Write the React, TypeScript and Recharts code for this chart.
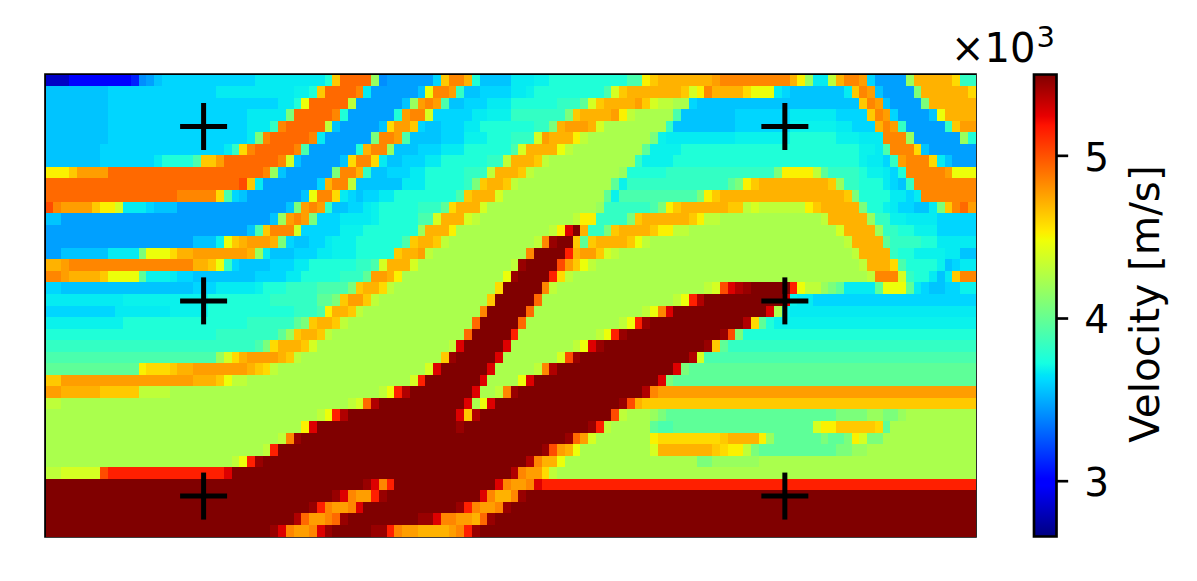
import { Area, ComposedChart, ReferenceArea, Scatter, ScatterChart, XAxis, YAxis } from "recharts";

const COLS = 120;
const ROWS = 40;
const V_MIN = 2.66;
const V_MAX = 5.5;

// velocity (x10^3 m/s) for each letter used in the rows below
const LEVEL_CODES = "nBCDEFGHJKLMNOPQRSTUVWXYZabcdefg";
const LEVEL_VALUES = [
  2.83, 3.0, 3.1, 3.41, 3.46, 3.56, 3.61, 3.67, 3.69, 3.76, 3.83, 3.91, 3.98, 4.08, 4.18, 4.24,
  4.31, 4.39, 4.47, 4.52, 4.59, 4.64, 4.71, 4.77, 4.84, 4.93, 5.02, 5.15, 5.27, 5.38, 5.44, 5.5,
];

// one line per row, each token = level letter + column where that run ends
const VELOCITY_ROWS = [
  "n3 B11 C12 D13 E14 F15 G27 H36 K37 W38 a42 P43 D44 E50 G51 W52 Z54 X55 K56 F60 H63 J65 K75 M77 U78 W79 X86 Y87 Z96 X97 U98 P99 H101 R102 X103 Z105 Y106 G107 E111 P112 X117 V118 L120",
  "F8 G22 H32 J34 K35 W36 a40 Z41 H42 E48 F49 T50 Z52 Y53 L54 F56 G60 H62 J63 K72 M73 S74 W75 X82 W83 S84 U85 Z86 X90 V91 T94 H95 G96 F103 H104 W105 Z106 Y107 F108 E112 O113 X119 V120",
  "F8 G30 H32 K33 T34 a39 R40 E46 F47 P48 Y49 Z50 Y51 M52 F54 G57 H60 K66 L69 N70 S71 W72 X76 Y77 W78 S79 R81 Q83 G84 F105 W106 Z107 Y108 F109 E113 O114 X120",
  "F8 G26 H31 O32 a37 Z38 K39 E45 K46 Y47 Z49 S50 G55 H57 J60 L67 O68 W69 X73 Y74 U75 R76 Q81 M82 F89 G96 H102 G106 W107 Z108 Y109 G110 E114 F115 T116 X120",
  "F8 G26 H29 L30 Z31 a36 R37 F38 E43 F44 V45 Y47 W48 G49 F51 G54 H56 K63 L65 O66 X67 Y70 X71 S72 Q80 L81 F89 G96 J102 H104 G107 X108 Z109 Y110 L111 E116 L117 W118 Y120",
  "F8 G26 H27 O28 Z29 a34 Z35 H36 E42 O43 Z45 Y46 M47 F51 G54 J57 K60 L63 S64 Y65 X68 U69 R70 Q78 O79 J80 H89 J96 K102 J105 H108 Z111 P112 E118 P119 K120",
  "F7 G23 H24 L25 V26 Z27 a32 Z33 M34 E40 K41 X42 Z44 P45 F48 G51 H54 K60 M61 S62 X66 T67 R68 Q77 N78 J82 K105 J107 H108 M109 Z112 V113 F114 E120",
  "F7 G14 H15 K19 M20 W22 Y23 a30 Z31 S32 F33 E38 F39 V40 Z42 V43 H44 F46 G49 H51 K57 L59 R60 X63 W64 R65 Q76 L77 J81 K105 J106 H108 G109 L110 Y111 Z114 V115 H116 F117 E120",
  "U3 W4 Y8 a28 Z29 P30 F31 E37 O38 Z40 X41 L42 F44 G47 H49 K54 L57 R58 X61 W62 R63 Q74 P75 K80 L94 O95 U99 R100 N101 L105 K106 J108 H109 G110 K111 Z116 Y117 T120",
  "a25 b26 W27 H28 E35 G36 X37 Z39 R40 F46 H49 K54 L55 O56 W57 X59 W60 R61 Q73 N74 J75 L88 N89 O90 U91 W92 X101 W102 P103 L105 K108 H109 G110 F111 L112 Z120",
  "a17 Z22 V23 M24 G25 F26 E33 F34 T35 Z37 V38 H39 G40 F41 G43 H45 K53 M54 W55 X58 S59 Q72 N73 J74 M84 O85 U86 W87 X103 W104 O105 K109 H111 G112 H113 Z120",
  "b1 Z2 Y6 W7 U9 S10 H13 G14 F17 E31 F32 O33 Y34 Z35 Y36 L37 F39 G41 H42 J43 K48 L51 N52 V53 X56 S57 Q71 P72 L78 M79 O80 U81 W82 X88 W90 R91 S92 R98 U99 W100 X105 O106 K108 J109 H110 G112 F114 H115 O116 W117 Z118 a119 Y120",
  "F2 E29 F30 P31 Y32 Z33 Y34 O35 G38 H42 J43 K48 M50 S51 X54 S55 R56 Q68 R69 U71 L75 O76 W77 X83 W84 U85 R87 Q100 R101 X106 P107 L109 J111 H115 G120",
  "E26 F27 M28 W29 Z32 S33 G38 J41 K48 P49 X52 U53 Q65 R66 U67 d68 g69 X70 L72 O73 W74 X78 W79 U81 R83 Q102 S103 X107 P108 L110 K112 J115 G120",
  "E19 F22 J23 T24 W25 X26 Y29 X30 O31 G32 F34 G36 H37 J40 K46 M47 W48 X50 W51 R52 Q63 R64 Z65 f66 g68 W69 N70 W71 X75 W76 T77 R78 Q103 R104 X108 N109 L113 K115 H120",
  "E2 F8 H12 O13 T16 V17 X19 Y26 X27 P28 H29 F32 G35 H37 J40 K45 W46 X48 Y49 R50 Q62 Z63 g67 c68 X69 Y71 W72 S73 R74 Q104 R105 X109 L110 K112 J116 H118 F120",
  "X2 Y3 Z19 X21 W22 T23 L24 G25 F29 G32 H34 K40 L42 M43 S44 X47 S48 Q60 R61 f62 g66 b67 Y68 W69 T70 R71 Q105 R106 X109 V110 M111 K115 J116 F117 G118 H120",
  "Z2 Y3 X7 W8 T12 N13 J16 H17 G19 F27 G31 H33 K38 L41 N42 Y44 X45 U46 Q59 T60 f61 g65 c66 V67 R68 Q106 R107 Z110 S111 L112 K114 H115 F116 H117 W118 Z120",
  "G2 F19 G22 H27 J28 K31 L35 M39 O40 W41 X43 V44 R45 Q58 V59 g64 Z65 R66 Q85 R86 S87 b88 d89 e90 f91 g96 c97 T98 R100 P101 O102 N103 H107 N108 T111 N112 H113 G114 F116 G118 J120",
  "H10 J21 K29 L35 N37 O38 W39 Y41 W42 R43 Q57 W58 g63 a64 Q81 R82 T83 c84 e85 g95 d96 J97 H99 G120",
  "G9 H16 J21 K32 L35 M36 U37 X39 W40 R41 Q56 Z57 g62 a63 Q77 R78 T79 Z80 d81 g93 d94 Q95 J96 H120",
  "J10 K26 L32 N33 O34 W35 X37 W38 R39 Q55 a56 g61 a62 Q74 R75 T76 c77 f78 g90 e91 V92 N93 K94 J120",
  "K22 L30 N31 P32 W33 X35 W36 R37 Q54 a55 g60 c61 Q71 R72 T73 c74 f75 g87 f88 b89 O90 K120",
  "L27 M28 O29 V30 X33 W34 S35 Q52 R53 d54 g59 d60 Q68 R69 T70 d71 f72 g85 f86 W87 N88 L120",
  "M22 P23 S24 V25 X26 Y30 X31 W32 R33 Q51 W52 f53 g58 d59 Q66 S67 b68 f69 g83 e84 S85 M120",
  "N12 U13 V16 W17 X19 Y26 X27 W28 V29 R30 Q49 S50 d51 g57 d58 Q63 R64 Z65 e66 g81 d82 O83 N120",
  "W2 Y19 X22 W23 T24 R26 Q47 S48 c49 g56 d57 Q61 T62 d63 g79 d80 O81 N120",
  "Y2 X7 W12 R16 Q43 R44 T45 c46 e47 g55 d56 Q58 R59 Z60 f61 g77 e78 Z79 Y120",
  "R2 Q39 R40 S41 a42 e43 g54 d55 Q56 T57 d58 g74 f75 b76 X77 W120",
  "Q35 R36 T37 c38 e39 g53 d54 W55 e56 g73 b74 R75 Q78 P79 O80 N102 O106 P108 O110 P111 Q120",
  "Q33 U34 d35 g53 f54 g70 f71 c72 R73 Q78 N79 M81 N99 S100 U102 W107 V108 N109 Q120",
  "Q30 R31 Z32 f33 g67 f68 a69 Y70 S71 Q78 U79 V87 W88 X92 U93 P94 N100 O101 N103 O104 U105 S106 O108 Q120",
  "Q28 R29 c30 g64 f65 b66 Y67 X68 T69 Q78 S79 X86 W87 V88 U90 R91 O92 N102 O104 P106 Q120",
  "Q24 R25 T26 c27 f28 g62 e63 Z64 X66 T67 Q84 O86 P92 Q120",
  "R2 S7 b8 c23 d24 g60 e61 Z62 Y64 V65 R66 Q120",
  "g41 f42 d43 Z44 c45 g58 d59 Z60 Y62 Z63 d64 c120",
  "g37 f38 d39 Z40 Y42 c43 f44 g56 d57 Z58 X60 Z61 f62 g120",
  "g34 f35 c36 Z37 Y39 Z40 d41 g53 f54 c55 Z56 Y58 Z59 f60 g120",
  "g32 e33 a34 Y36 Z37 a38 f39 g48 f50 d51 Z53 Y55 X56 a57 f58 g120",
  "g29 f30 d31 Z32 Y34 Z35 d36 f37 g42 f44 c45 Z46 Y48 X52 Y53 Z54 c55 f56 g120",
];

const STATION_X = [20.4, 95.4];
const STATION_Y = [4.5, 19.6, 36.5];
const COLORBAR_TICKS = [3, 4, 5];
const COLORBAR_STOPS = [0, 0.11, 0.125, 0.34, 0.35, 0.375, 0.64, 0.65, 0.66, 0.89, 0.91, 1];

const FONT = "'DejaVu Sans', sans-serif";
const PLOT = { left: 45.5, top: 74.5, right: 975.5, bottom: 536.5 };
const CELL_W = (PLOT.right - PLOT.left) / COLS;
const CELL_H = (PLOT.bottom - PLOT.top) / ROWS;

const lerp = (pts: number[][], t: number) => {
  for (let i = 1; i < pts.length; i++) {
    if (t <= pts[i][0]) {
      const [x0, y0] = pts[i - 1];
      const [x1, y1] = pts[i];
      return y0 + ((y1 - y0) * (t - x0)) / (x1 - x0);
    }
  }
  return pts[pts.length - 1][1];
};

// matplotlib "jet"
const jet = (t: number) => {
  const r = lerp([[0, 0], [0.35, 0], [0.66, 1], [0.89, 1], [1, 0.5]], t);
  const g = lerp([[0, 0], [0.125, 0], [0.375, 1], [0.64, 1], [0.91, 0], [1, 0]], t);
  const b = lerp([[0, 0.5], [0.11, 1], [0.34, 1], [0.65, 0], [1, 0]], t);
  return `rgb(${Math.round(r * 255)},${Math.round(g * 255)},${Math.round(b * 255)})`;
};

const cells = VELOCITY_ROWS.flatMap((row, y) => {
  let col = 0;
  const out: { x: number; y: number; v: number }[] = [];
  row.split(" ").forEach((token) => {
    const v = LEVEL_VALUES[LEVEL_CODES.indexOf(token[0])];
    const end = Number(token.slice(1));
    for (; col < end; col++) out.push({ x: col + 0.5, y: y + 0.5, v });
  });
  return out;
});

const stations = STATION_Y.flatMap((y) => STATION_X.map((x) => ({ x, y })));
const colorbarData = [
  { x: 0, v: V_MAX },
  { x: 1, v: V_MAX },
];

const CellShape = ({ cx, cy, payload }: any) => (
  <rect
    x={cx - CELL_W / 2}
    y={cy - CELL_H / 2}
    width={CELL_W}
    height={CELL_H}
    fill={jet((payload.v - V_MIN) / (V_MAX - V_MIN))}
    shapeRendering="crispEdges"
  />
);

const CrossShape = ({ cx, cy }: any) => (
  <g stroke="#000" strokeWidth={5}>
    <line x1={cx - 23.5} x2={cx + 23.5} y1={cy} y2={cy} />
    <line x1={cx} x2={cx} y1={cy - 23.5} y2={cy + 23.5} />
  </g>
);

export default function App() {
  return (
    <div style={{ position: "absolute", left: 0, top: 0, width: 1197, height: 581, background: "#fff", fontFamily: FONT }}>
      <div style={{ position: "absolute", left: 0, top: 0 }}>
        <ScatterChart
          width={1000}
          height={581}
          margin={{ left: PLOT.left, top: PLOT.top, right: 1000 - PLOT.right, bottom: 581 - PLOT.bottom }}
        >
          <XAxis type="number" dataKey="x" domain={[0, COLS]} hide />
          <YAxis type="number" dataKey="y" domain={[0, ROWS]} reversed hide />
          <Scatter data={cells} shape={CellShape} isAnimationActive={false} />
          <Scatter data={stations} shape={CrossShape} isAnimationActive={false} />
          <ReferenceArea x1={0} x2={COLS} y1={0} y2={ROWS} fill="none" stroke="#000" strokeWidth={2.67} />
        </ScatterChart>
      </div>

      <div style={{ position: "absolute", left: 1000, top: 0 }}>
        <ComposedChart
          width={197}
          height={581}
          data={colorbarData}
          margin={{ left: 34, top: PLOT.top, right: 0, bottom: 581 - PLOT.bottom }}
        >
          <defs>
            <linearGradient id="jetBar" x1="0" y1="1" x2="0" y2="0">
              {COLORBAR_STOPS.map((t) => (
                <stop key={t} offset={t} stopColor={jet(t)} />
              ))}
            </linearGradient>
          </defs>
          <XAxis type="number" dataKey="x" domain={[0, 1]} hide />
          <YAxis
            orientation="right"
            type="number"
            domain={[V_MIN, V_MAX]}
            ticks={COLORBAR_TICKS}
            width={140.5}
            axisLine={false}
            tickSize={11.67}
            tickLine={{ stroke: "#000", strokeWidth: 2.67 }}
            tick={{ fill: "#000", fontSize: 39, fontFamily: FONT, dy: 1 }}
            tickMargin={16}
          />
          <Area
            dataKey="v"
            type="linear"
            baseValue={V_MIN}
            fill="url(#jetBar)"
            fillOpacity={1}
            stroke="none"
            dot={false}
            activeDot={false}
            isAnimationActive={false}
          />
          <ReferenceArea x1={0} x2={1} y1={V_MIN} y2={V_MAX} fill="none" stroke="#000" strokeWidth={2.67} />
        </ComposedChart>
      </div>

      <div style={{ position: "absolute", left: 951, top: 25, fontSize: 40, lineHeight: "46px", whiteSpace: "nowrap" }}>
        ×10<span style={{ position: "relative", top: -15, left: 1, fontSize: 29 }}>3</span>
      </div>
      <div
        style={{
          position: "absolute",
          left: 1145,
          top: 304,
          fontSize: 40.5,
          whiteSpace: "nowrap",
          transform: "translate(-50%, -50%) rotate(-90deg)",
        }}
      >
        Velocity [m/s]
      </div>
    </div>
  );
}
